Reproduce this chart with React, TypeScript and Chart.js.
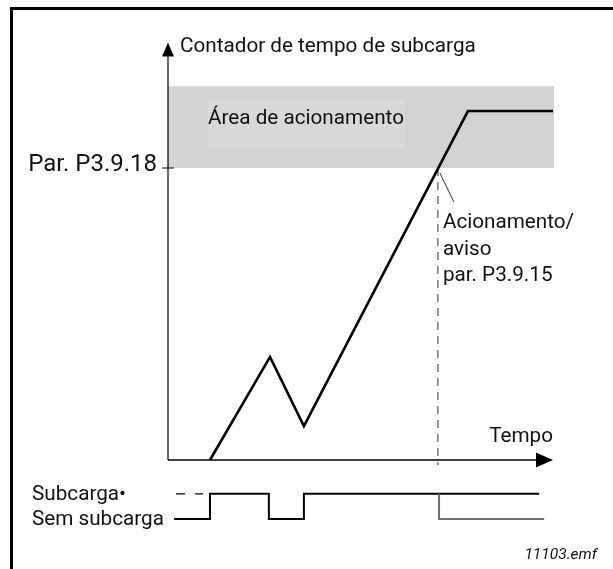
import React, { useEffect, useRef } from "react";
import { Chart, registerables } from "chart.js";
Chart.register(...registerables);

// Underload time counter (time units 0..100, counter units: 100 = trip limit P3.9.18)
const counterTimes = [10.9, 26.5, 35.3, 77.9, 100];
const counterValues = [0, 35.3, 11.6, 119.5, 119.5];
const tripLimit = 100;
const tripAreaTop = 128;
const tripTime = 70.1;
const axisTop = 143;

// Underload signal (1 = Subcarga, 0 = Sem subcarga)
const signalTimes = [1.6, 10.9, 10.9, 26.2, 26.2, 35.3, 35.3, 96.4];
const signalStates = [0, 0, 1, 1, 0, 0, 1, 1];
const trippedTimes = [70.4, 70.4, 97.7];
const trippedStates = [1, 0, 0];
const preDashTimes = [2.1, 9.1];
const preDashStates = [1, 1];
const stateLevels = [-20.2, -11.6];

const yAxisTitle = "Contador de tempo de subcarga";
const xAxisTitle = "Tempo";
const areaLabel = "Área de acionamento";
const limitLabel = "Par. P3.9.18";
const tripLabel = ["Acionamento/", "aviso", "par. P3.9.15"];
const stateLabels = ["Sem subcarga", "Subcarga•"];
const footnote = "11103.emf";

const FONT = "Roboto";

const drawPlugin = {
  id: "diagram",
  beforeDatasetsDraw(chart: any) {
    const { ctx } = chart;
    const xs = chart.scales.x;
    const ys = chart.scales.y;
    const x0 = xs.getPixelForValue(0);
    const xEnd = xs.getPixelForValue(100);
    const y0 = ys.getPixelForValue(0);
    const yLim = ys.getPixelForValue(tripLimit);
    const yBand = ys.getPixelForValue(tripAreaTop);
    const yTop = ys.getPixelForValue(axisTop);
    ctx.save();
    // frame
    ctx.fillStyle = "#000";
    ctx.fillRect(10, 7, 613, 3);
    ctx.fillRect(10, 7, 3, 569);
    // band
    ctx.fillStyle = "#d3d3d3";
    ctx.fillRect(x0, yBand, xEnd + 1 - x0, yLim - yBand);
    ctx.fillStyle = "#d8d8d8";
    ctx.fillRect(x0 + 40, yBand + 14, 197, 48);
    // y axis
    ctx.strokeStyle = "#000";
    ctx.lineWidth = 1.2;
    ctx.beginPath();
    ctx.moveTo(x0, y0);
    ctx.lineTo(x0, yTop + 10);
    ctx.stroke();
    ctx.fillStyle = "#000";
    ctx.beginPath();
    ctx.moveTo(x0, yTop);
    ctx.lineTo(x0 - 6, yTop + 14);
    ctx.lineTo(x0 + 6, yTop + 14);
    ctx.closePath();
    ctx.fill();
    // x axis
    ctx.lineWidth = 1.5;
    ctx.beginPath();
    ctx.moveTo(x0, y0);
    ctx.lineTo(xEnd - 10, y0);
    ctx.stroke();
    ctx.beginPath();
    ctx.moveTo(xEnd, y0);
    ctx.lineTo(xEnd - 17, y0 - 7.5);
    ctx.lineTo(xEnd - 17, y0 + 7.5);
    ctx.closePath();
    ctx.fill();
    // limit tick
    ctx.lineWidth = 1;
    ctx.beginPath();
    ctx.moveTo(x0 - 6, yLim);
    ctx.lineTo(x0 + 6, yLim);
    ctx.stroke();
    // leader line
    const xt = xs.getPixelForValue(tripTime);
    ctx.strokeStyle = "#333";
    ctx.beginPath();
    ctx.moveTo(xt + 2, yLim + 5);
    ctx.lineTo(xt + 16, yLim + 34);
    ctx.stroke();
    // texts
    ctx.fillStyle = "#111";
    ctx.textBaseline = "middle";
    ctx.textAlign = "left";
    ctx.font = `20.7px ${FONT}`;
    ctx.fillText(yAxisTitle, x0 + 12, yTop + 4);
    ctx.fillText(areaLabel, x0 + 40, yBand + 33);
    ctx.textAlign = "right";
    ctx.fillText(xAxisTitle, xEnd, y0 - 23);
    ctx.textAlign = "left";
    tripLabel.forEach((t, i) => ctx.fillText(t, xt + 5, yLim + 55 + i * 26.5));
    ctx.fillText(stateLabels[1], 32, ys.getPixelForValue(stateLevels[1]) + 1);
    ctx.fillText(stateLabels[0], 32, ys.getPixelForValue(stateLevels[0]) + 1);
    ctx.font = `24px ${FONT}`;
    ctx.textAlign = "right";
    ctx.fillText(limitLabel, x0 - 11, yLim - 3);
    ctx.font = `italic 15.5px ${FONT}`;
    ctx.fillText(footnote, 597, 555);
    ctx.restore();
  },
};

const pts = (xs: number[], ys: number[]) => xs.map((x, i) => ({ x, y: ys[i] }));

export default function App() {
  const ref = useRef<HTMLCanvasElement>(null);
  useEffect(() => {
    if (!ref.current) return;
    const base = { pointRadius: 0, tension: 0, fill: false, borderCapStyle: "butt", borderJoinStyle: "miter" };
    const chart = new Chart(ref.current, {
      type: "line",
      data: {
        datasets: [
          { ...base, data: pts(counterTimes, counterValues), borderColor: "#000", borderWidth: 2.6 },
          { ...base, data: pts([tripTime, tripTime], [tripLimit, -1.7]), borderColor: "#777", borderWidth: 1.5, borderDash: [8, 6] },
          { ...base, data: pts(trippedTimes, trippedStates.map((s) => stateLevels[s])), borderColor: "#6e6e6e", borderWidth: 2 },
          { ...base, data: pts(signalTimes, signalStates.map((s) => stateLevels[s])), borderColor: "#000", borderWidth: 2 },
          { ...base, data: pts(preDashTimes, preDashStates.map((s) => stateLevels[s])), borderColor: "#000", borderWidth: 1.2, borderDash: [9, 10] },
        ] as any,
      },
      options: {
        responsive: false,
        animation: false,
        events: [],
        layout: { padding: { left: 168, right: 60, top: 36.6, bottom: 36 } },
        plugins: { legend: { display: false }, tooltip: { enabled: false }, title: { display: false } },
        scales: {
          x: { type: "linear", min: 0, max: 100, display: false },
          y: { type: "linear", min: -25, max: 145, display: false },
        },
      },
      plugins: [drawPlugin],
    });
    return () => chart.destroy();
  }, []);
  return (
    <div style={{ position: "absolute", left: 0, top: 0, width: 613, height: 569, background: "#fff" }}>
      <canvas ref={ref} width={613} height={569} style={{ width: 613, height: 569 }} />
    </div>
  );
}
